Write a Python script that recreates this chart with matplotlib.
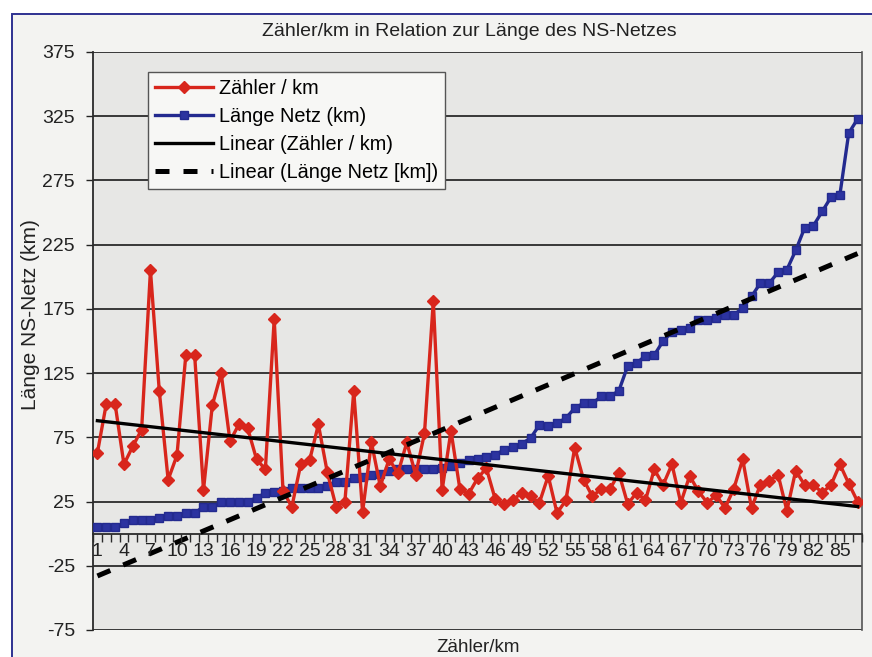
import numpy as np
import matplotlib
matplotlib.use("Agg")
import matplotlib.pyplot as plt
from matplotlib.patches import Rectangle
from matplotlib import font_manager as fm

# ---- data ----
title = "Zähler/km in Relation zur Länge des NS-Netzes"
x_label = "Zähler/km"
y_label = "Länge NS-Netz (km)"
categories = list(range(1, 88))
zaehler_km = [63, 101, 101, 54, 68, 81, 205, 111, 42, 61,
              139, 139, 34, 100, 125, 72, 85, 82, 58, 50,
              167, 33, 21, 54, 57, 85, 48, 21, 25, 111,
              17, 71, 37, 58, 47, 71, 46, 78, 181, 34,
              80, 35, 31, 43, 51, 27, 23, 26, 32, 29,
              24, 45, 16, 26, 67, 42, 29, 35, 35, 47,
              23, 32, 26, 50, 38, 54, 24, 45, 33, 24,
              30, 20, 35, 58, 20, 38, 41, 46, 18, 49,
              38, 38, 32, 38, 54, 39, 25]
laenge_netz = [5.5, 5.5, 5.5, 8, 10.5, 10.5, 11, 12.5, 14, 14,
               16, 16, 21, 21, 24.5, 24.5, 24.5, 25, 28, 31.5,
               32.5, 33.6, 35.5, 35.5, 35.5, 35.5, 37, 40.6, 40.6, 43,
               44.5, 45.8, 46.6, 48.4, 50, 50, 50, 50, 50, 51,
               52.8, 55, 57.5, 58, 60, 61.4, 65.3, 67.4, 70, 74.4,
               84.5, 84, 86, 90, 97.7, 101.6, 101.6, 106.8, 106.8, 111.4,
               130.7, 132.8, 138.5, 139, 150, 157, 158.5, 160, 166, 166.5,
               167.8, 170.4, 170.4, 175.6, 184.7, 195, 195, 203.4, 205.5, 220.5,
               237.9, 239.7, 250.9, 262, 263.9, 311.9, 322.8]
series_names = ["Zähler / km", "Länge Netz (km)",
                "Linear (Zähler / km)", "Linear (Länge Netz [km])"]
y_ticks = list(range(-75, 376, 50))
x_tick_labels = list(range(1, 86, 3))

avail = {f.name for f in fm.fontManager.ttflist}
base_font = "Liberation Sans" if "Liberation Sans" in avail else "DejaVu Sans"
narrow_font = "Liberation Sans Narrow" if "Liberation Sans Narrow" in avail else base_font
plt.rcParams["font.family"] = [base_font, "DejaVu Sans"]
plt.rcParams["axes.unicode_minus"] = False

W, H = 872, 657
fig = plt.figure(figsize=(W / 100, H / 100), dpi=100, facecolor="white")

# chart area frame
frame = Rectangle((12 / W, -0.01), 1.0, 1.01 - 14 / H, transform=fig.transFigure,
                  facecolor="#F3F3F1", edgecolor="#2E3191", linewidth=1.4)
frame.set_zorder(-10)
fig.add_artist(frame)

ax = fig.add_axes([93 / W, 1 - 630 / H, (862 - 93) / W, (630 - 52) / H])
ax.set_zorder(1)
ax.set_facecolor("#E7E7E5")

x = np.array(categories, dtype=float)
red = np.array(zaehler_km, dtype=float)
blue = np.array(laenge_netz, dtype=float)

l1, = ax.plot(x, red, color="#D8261C", lw=2.4, marker="D", ms=6.5,
              mec="#D8261C", mfc="#D8261C", zorder=4)
l2, = ax.plot(x, blue, color="#232A8F", lw=2.4, marker="s", ms=6,
              mec="#232A8F", mfc="#2C33A0", zorder=3)

c1 = np.polyfit(x, red, 1)
c2 = np.polyfit(x, blue, 1)
l3, = ax.plot(x, np.polyval(c1, x), color="black", lw=2.4, zorder=5)
l4, = ax.plot(x, np.polyval(c2, x), color="black", lw=3.6, zorder=5,
              dashes=(2.8, 2.8))

ax.set_xlim(0.5, len(categories) + 0.5)
ax.set_ylim(-75, 375)
ax.set_yticks(y_ticks)
ax.yaxis.grid(True, color="#2A2A2A", lw=1.3)
ax.set_axisbelow(True)
ax.xaxis.set_zorder(6)
ax.tick_params(axis="y", direction="out", length=5, width=1, pad=8,
               labelsize=14, colors="#222222")

# x axis crossing at 0
ax.spines["bottom"].set_position(("data", 0))
ax.spines["bottom"].set_color("#2A2A2A")
ax.spines["bottom"].set_linewidth(1.3)
for s in ["top", "right"]:
    ax.spines[s].set_visible(False)
ax.spines["left"].set_color("#2A2A2A")
ax.spines["left"].set_linewidth(1.3)
ax.plot([1, 1], [0, 1], transform=ax.transAxes, color="#555555", lw=1.2, clip_on=False)

ax.set_xticks(x_tick_labels)
ax.set_xticklabels([str(v) for v in x_tick_labels], fontsize=14,
                   family=[narrow_font, "DejaVu Sans"], color="#222222")
ax.tick_params(axis="x", which="major", length=0, pad=7)
ax.set_xticks(np.arange(0.5, len(categories) + 1, 1.0), minor=True)
ax.tick_params(axis="x", which="minor", length=6, width=1, direction="out",
               color="#2A2A2A")

fig.text(469 / W, 1 - 32 / H, title, ha="center", va="center", fontsize=14,
         color="#222222")
fig.text(478 / W, 1 - 647 / H, x_label, ha="center", va="center", fontsize=13.5,
         color="#222222")
fig.text(31 / W, 1 - 315 / H, y_label, ha="center", va="center", fontsize=15,
         rotation=90, color="#222222")

leg = ax.legend([l1, l2, l3, l4], series_names, loc="upper left",
                bbox_to_anchor=(148 / W, 1 - 72 / H), bbox_transform=fig.transFigure,
                borderaxespad=0, fontsize=14.3, handlelength=2.9, handletextpad=0.3,
                labelspacing=0.45, borderpad=0.35, fancybox=False, framealpha=1,
                facecolor="#F7F7F5", edgecolor="#555555")
leg.get_frame().set_linewidth(1.0)
leg.set_zorder(10)

fig.savefig("out.png", dpi=100, facecolor="white")
